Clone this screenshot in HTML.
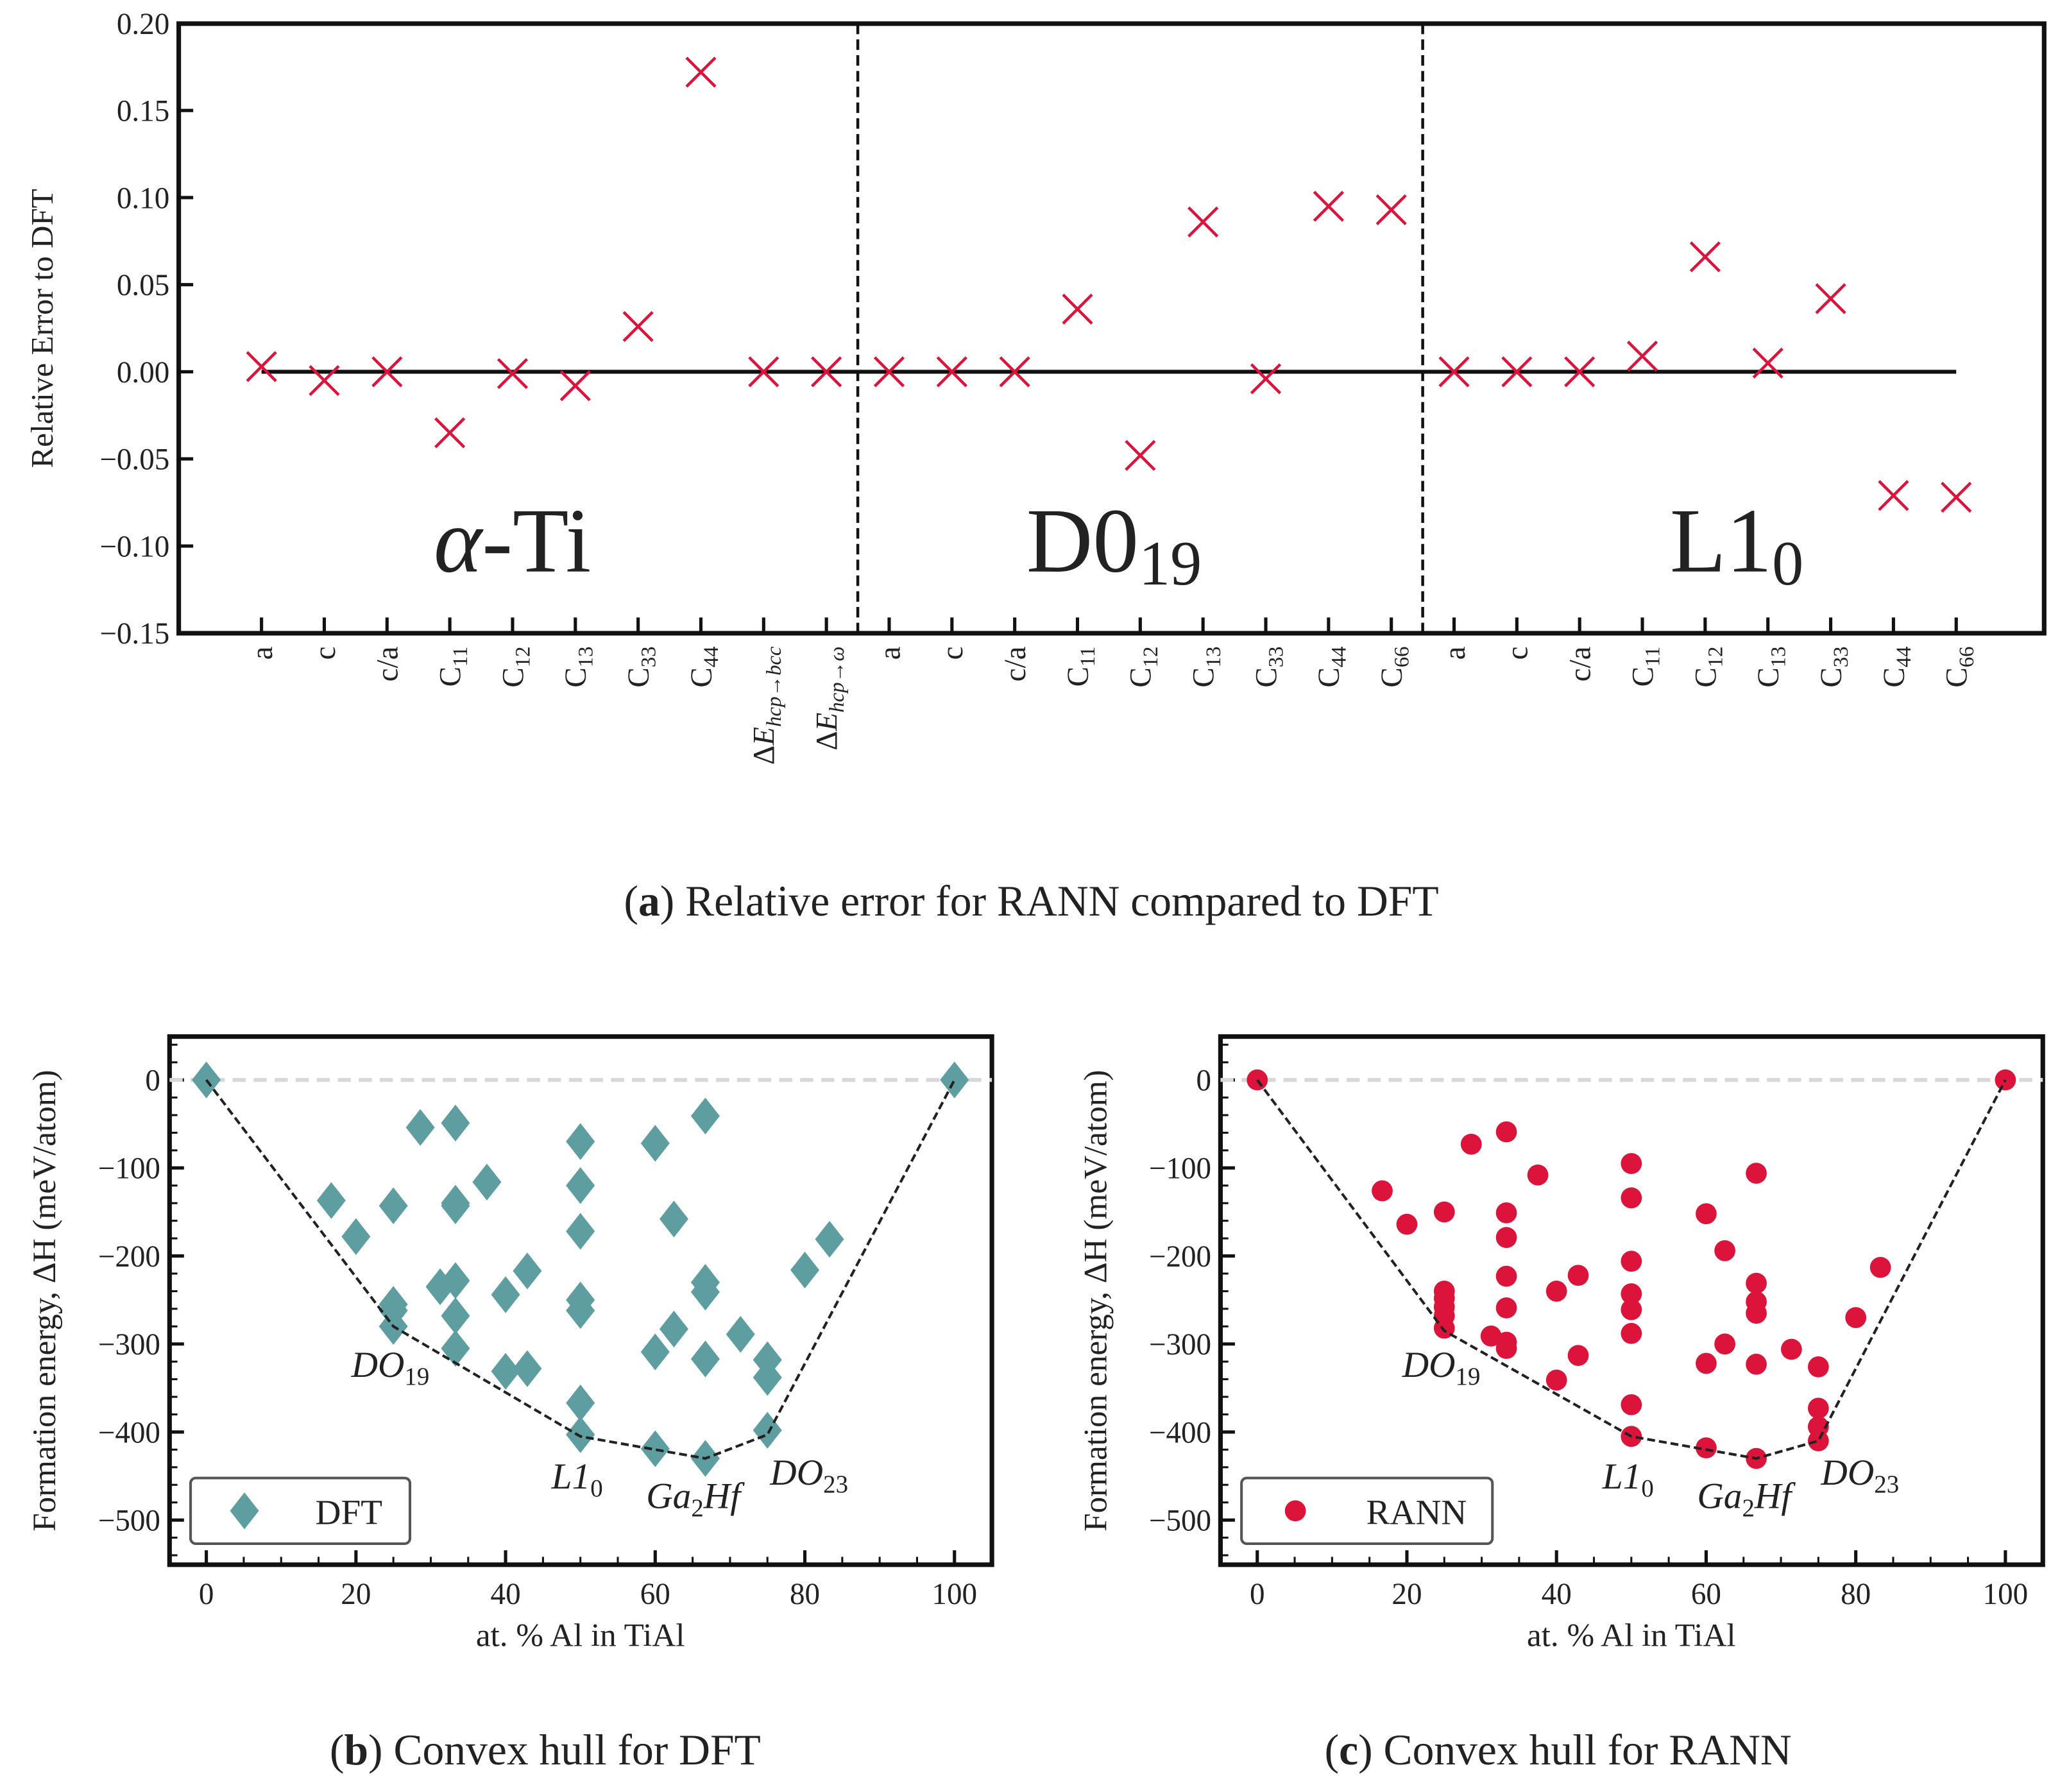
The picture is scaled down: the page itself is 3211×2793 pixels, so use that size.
<!DOCTYPE html>
<html><head><meta charset="utf-8">
<style>
html,body{margin:0;padding:0;background:#fff;}
svg{display:block;}
svg text{font-family:"Liberation Serif","DejaVu Serif",serif;fill:#222;}
</style></head>
<body>
<svg id="fig" xmlns="http://www.w3.org/2000/svg" width="3211" height="2793" viewBox="0 0 1568 1364" font-family="Liberation Serif, DejaVu Serif, serif">
<rect width="1568" height="1364" fill="#fff"/>
<g id="top"></g>
<g id="pb"></g>
<g id="pc"></g>
<text x="785" y="697" font-size="33" text-anchor="middle">(<tspan font-weight="bold">a</tspan>) Relative error for RANN compared to DFT</text>
<text x="415" y="1343" font-size="33" text-anchor="middle">(<tspan font-weight="bold">b</tspan>) Convex hull for DFT</text>
<text x="1186" y="1343" font-size="33" text-anchor="middle">(<tspan font-weight="bold">c</tspan>) Convex hull for RANN</text>
</svg>
<script>
const categories=["a","c","c/a","C11","C12","C13","C33","C44","dEbcc","dEw","a","c","c/a","C11","C12","C13","C33","C44","C66","a","c","c/a","C11","C12","C13","C33","C44","C66"];
const relErr=[0.003,-0.005,0.0,-0.035,-0.001,-0.008,0.026,0.172,0.0,0.0, 0,0,0,0.036,-0.048,0.086,-0.004,0.095,0.093, 0,0,0,0.009,0.066,0.005,0.042,-0.071,-0.072];
const yTicksTop=[0.20,0.15,0.10,0.05,0.00,-0.05,-0.10,-0.15];
const dftX=[0,100,16.7,20,25,25,25,25,28.6,33.3,31.25,33.3,33.3,33.3,33.3,33.3,37.5,40,40,42.9,42.9,50,50,50,50,50,50,50,60,60,60,62.5,62.5,66.7,66.7,66.7,66.7,66.7,71.4,75,75,75,80,83.3];
const dftY=[0,0,-137,-178,-143,-255,-262,-280,-54,-49,-235,-140,-143,-228,-268,-305,-116,-244,-331,-217,-328,-70,-120,-172,-250,-262,-367,-403,-72,-309,-419,-158,-283,-41,-230,-241,-317,-430,-289,-318,-338,-398,-216,-181];
const dftHullX=[0,25,50,66.7,75,100];
const dftHullY=[0,-280,-405,-430,-403,0];
const rannX=[0,100,16.7,20,25,25,25,25,25,25,28.6,31.25,33.3,33.3,33.3,33.3,33.3,33.3,33.3,37.5,40,40,42.9,42.9,50,50,50,50,50,50,50,50,60,60,60,62.5,62.5,66.7,66.7,66.7,66.7,66.7,66.7,71.4,75,75,75,75,80,83.3];
const rannY=[0,0,-126,-164,-150,-240,-248,-258,-268,-282,-73,-291,-59,-151,-179,-223,-259,-298,-305,-108,-240,-341,-222,-313,-95,-134,-206,-243,-261,-288,-369,-405,-152,-322,-418,-194,-300,-106,-231,-252,-265,-323,-430,-306,-326,-373,-394,-410,-270,-213];
const rannHullX=[0,25,50,66.7,75,100];
const rannHullY=[0,-285,-405,-430,-410,0];
const xTicksB=[0,20,40,60,80,100];
const yTicksB=[0,-100,-200,-300,-400,-500];

const NS="http://www.w3.org/2000/svg";
const FF="Liberation Serif, DejaVu Serif, serif";
function mk(parent,tag,attrs,txt){const e=document.createElementNS(NS,tag);for(const k in attrs)e.setAttribute(k,attrs[k]);if(tag==='text')e.setAttribute('font-family',FF);if(txt!==undefined)e.textContent=txt;parent.appendChild(e);return e;}

// ---------- top panel ----------
const T=document.getElementById('top');
const L=136,R=1556,TT=18,TB=482;
const ty=v=>283-(v/0.05)*66.3;
const tx=i=>199+i*47.78;
let e;
e=mk(T,'rect',{x:L,y:TT,width:R-L,height:TB-TT,fill:'none',stroke:'#111','stroke-width':3.5});


yTicksTop.forEach(v=>{
  e=mk(T,'line',{x1:L,x2:L+11,y1:ty(v),y2:ty(v),stroke:'#111','stroke-width':2.5});
  
  
  const s=(v<0?'\u2212':'')+Math.abs(v).toFixed(2);
  e=mk(T,'text',{x:L-7,y:ty(v)+8,'font-size':23,'text-anchor':'end'},s);
  
  
});
e=mk(T,'text',{x:40,y:250,'font-size':24,'text-anchor':'middle',transform:'rotate(-90 40 250)'},'Relative Error to DFT');


e=mk(T,'line',{x1:tx(0),x2:tx(27),y1:ty(0),y2:ty(0),stroke:'#111','stroke-width':3});


[9.5,18.5].forEach(p=>{
  e=mk(T,'line',{x1:tx(p),x2:tx(p),y1:TT,y2:TB,stroke:'#111','stroke-width':2.2,'stroke-dasharray':'8,4'});
  
  
});
const sub={C11:'11',C12:'12',C13:'13',C33:'33',C44:'44',C66:'66'};
categories.forEach((c,i)=>{
  const x=tx(i);
  e=mk(T,'line',{x1:x,x2:x,y1:TB,y2:TB-12,stroke:'#111','stroke-width':2.5});
  
  
  const t=mk(T,'text',{x:0,y:0,'font-size':23,'text-anchor':'end',transform:`translate(${x+8},${TB+10}) rotate(-90)`});
  
  
  if(sub[c]){t.textContent='C';mk(t,'tspan',{'font-size':16,dy:5},sub[c]);}
  else if(c==='dEbcc'){t.textContent='\u0394';mk(t,'tspan',{'font-style':'italic'},'E');mk(t,'tspan',{'font-size':16,dy:5,'font-style':'italic'},'hcp\u2192bcc');}
  else if(c==='dEw'){t.textContent='\u0394';mk(t,'tspan',{'font-style':'italic'},'E');mk(t,'tspan',{'font-size':16,dy:5,'font-style':'italic'},'hcp\u2192\u03c9');}
  else t.textContent=c;
  const y=ty(relErr[i]),s=11;
  const g=mk(T,'path',{d:`M${x-s} ${y-s}L${x+s} ${y+s}M${x-s} ${y+s}L${x+s} ${y-s}`,stroke:'#dc143c','stroke-width':2.2,fill:'none'});
  
  
});
e=mk(T,'text',{x:390,y:435,'font-size':70,'text-anchor':'middle'});


mk(e,'tspan',{'font-style':'italic'},'\u03b1');mk(e,'tspan',{},'-Ti');
e=mk(T,'text',{x:848,y:435,'font-size':70,'text-anchor':'middle'},'D0');


mk(e,'tspan',{'font-size':48,dy:10},'19');
e=mk(T,'text',{x:1322,y:435,'font-size':70,'text-anchor':'middle'},'L1');


mk(e,'tspan',{'font-size':48,dy:10},'0');

// ---------- hull panels ----------
function hull(G,ox,X,Y,HX,HY,color,shape,legend){
  const L=129+ox,R=755+ox,TT=789,TB=1191;
  const px=v=>157+ox+v*5.695;
  const py=v=>822-v*0.67;
  let e=mk(G,'rect',{x:L,y:TT,width:R-L,height:TB-TT,fill:'none',stroke:'#111','stroke-width':3.5});
  
  
  for(let v=0;v<=100;v+=5){const maj=v%20===0;
    e=mk(G,'line',{x1:px(v),x2:px(v),y1:TB,y2:TB-(maj?11:6),stroke:'#111','stroke-width':maj?2.5:1.5});
    
    }
  for(let v=40;v>=-540;v-=20){const maj=v%100===0;
    e=mk(G,'line',{x1:L,x2:L+(maj?11:6),y1:py(v),y2:py(v),stroke:'#111','stroke-width':maj?2.5:1.5});
    
    }
  xTicksB.forEach(v=>{e=mk(G,'text',{x:px(v),y:TB+30,'font-size':23,'text-anchor':'middle'},String(v));
    
    });
  yTicksB.forEach(v=>{e=mk(G,'text',{x:L-7,y:py(v)+8,'font-size':23,'text-anchor':'end'},(v<0?'\u2212':'')+Math.abs(v));
    
    });
  e=mk(G,'text',{x:px(50),y:1253,'font-size':25,'text-anchor':'middle'},'at. % Al in TiAl');
  
  
  const yx=ox+42;
  e=mk(G,'text',{x:yx,y:990,'font-size':25,'text-anchor':'middle',transform:`rotate(-90 ${yx} 990)`},'Formation energy, \u0394H (meV/atom)');
  
  
  e=mk(G,'line',{x1:L,x2:R,y1:py(0),y2:py(0),stroke:'#d8d8d8','stroke-width':3,'stroke-dasharray':'10,6'});
  
  
  X.forEach((v,i)=>{const x=px(v),y=py(Y[i]);
    if(shape==='d') e=mk(G,'path',{d:`M${x} ${y-14}L${x+11} ${y}L${x} ${y+14}L${x-11} ${y}Z`,fill:color});
    else e=mk(G,'circle',{cx:x,cy:y,r:8,fill:color});
    
    });
  e=mk(G,'polyline',{points:HX.map((v,i)=>px(v)+','+py(HY[i])).join(' '),fill:'none',stroke:'#222','stroke-width':2,'stroke-dasharray':'6,3'});
  
  
  const ann=[[px(25)-32,1048,'DO','19'],[px(50)-22,1133,'L1','0'],[px(66.7)-45,1148,'Ga','2','Hf'],[px(75)+2,1130,'DO','23']];
  ann.forEach(a=>{e=mk(G,'text',{x:a[0],y:a[1],'font-size':28,'font-style':'italic'},a[2]);
    
    
    mk(e,'tspan',{'font-size':19,dy:6,'font-style':'normal'},a[3]);
    if(a[4])mk(e,'tspan',{dy:-6},a[4]);});
  const lg=mk(G,'g',{});
  
  
  mk(lg,'rect',{x:145+ox,y:1125,width:167+(legend==='RANN'?24:0),height:50,rx:4,fill:'#fff',stroke:'#555','stroke-width':2});
  const lx=186+ox,ly=1150;
  if(shape==='d') mk(lg,'path',{d:`M${lx} ${ly-14}L${lx+11} ${ly}L${lx} ${ly+14}L${lx-11} ${ly}Z`,fill:color});
  else mk(lg,'circle',{cx:lx,cy:ly,r:8,fill:color});
  mk(lg,'text',{x:240+ox,y:ly+10,'font-size':27},legend);
}
hull(document.getElementById('pb'),0,dftX,dftY,dftHullX,dftHullY,'#5f9ea0','d','DFT');
hull(document.getElementById('pc'),800,rannX,rannY,rannHullX,rannHullY,'#dc143c','c','RANN');
</script>
</body></html>
